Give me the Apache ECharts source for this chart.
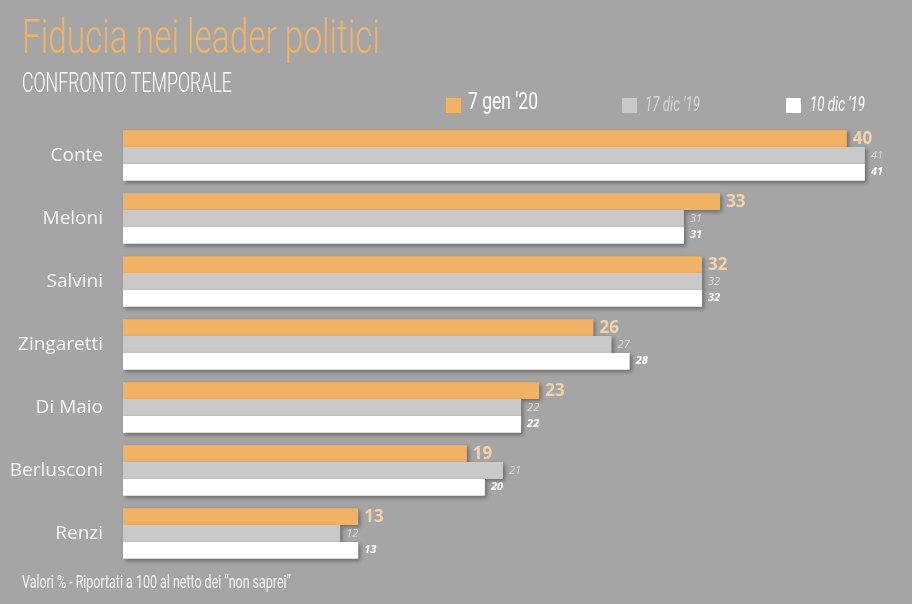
<!DOCTYPE html>
<html>
<head>
<meta charset="utf-8">
<script src="https://cdn.jsdelivr.net/npm/echarts@6/dist/echarts.min.js"></script>
<style>
  html, body { margin: 0; padding: 0; background: #a5a5a5; }
  #chart { width: 912px; height: 604px; }
</style>
</head>
<body>
<div id="chart"></div>
<script>
// dati
const leaders = ["Conte", "Meloni", "Salvini", "Zingaretti", "Di Maio", "Berlusconi", "Renzi"];
const gen20 = [40, 33, 32, 26, 23, 19, 13];
const dic17 = [41, 31, 32, 27, 22, 21, 12];
const dic10 = [41, 31, 32, 28, 22, 20, 13];
const seriesNames = ["7 gen '20", "17 dic '19", "10 dic '19"];

const colori = ["#f2b266", "#c9c9c9", "#ffffff"];
const condensed = "Roboto, sans-serif";

// niente font condensati: misuro il testo e lo stringo in orizzontale
const ctx = document.createElement("canvas").getContext("2d");
function narrowText(text, x, y, size, width, color, italic, weight) {
    const font = (italic ? "italic " : "") + (weight || "normal") + " " + size + "px " + condensed;
    ctx.font = font;
    const w = ctx.measureText(text).width;
    return {
        type: "text",
        x: x, y: y,
        scaleX: width / w,
        style: { text: text, x: 0, y: 0, font: font, fill: color, verticalAlign: "top" },
        z: 10
    };
}

const shadow = {
    shadowColor: "rgba(0, 0, 0, 0.35)",
    shadowBlur: 4,
    shadowOffsetX: 2,
    shadowOffsetY: 2
};

function bar(name, data, color, label) {
    return {
        name: name,
        type: "bar",
        data: data,
        barGap: "0%",
        barCategoryGap: "20%",
        itemStyle: Object.assign({ color: color }, shadow),
        label: Object.assign({ show: true, position: "right", distance: 6, fontFamily: "'Open Sans', sans-serif" }, label)
    };
}

function legendBox(name, left) {
    return {
        data: [name], left: left, top: 98, padding: 0,
        itemWidth: 15, itemHeight: 15, icon: "rect",
        formatter: () => "",
        itemStyle: { borderWidth: 0 }
    };
}

const chart = echarts.init(document.getElementById("chart"));
chart.setOption({
    backgroundColor: "#a5a5a5",
    animation: false,
    legend: [legendBox(seriesNames[0], 446), legendBox(seriesNames[1], 622), legendBox(seriesNames[2], 786)],
    graphic: [
        narrowText("Fiducia nei leader politici", 22, 17, 48, 358, "#f2b266", false, 300),
        narrowText("CONFRONTO TEMPORALE", 22, 72, 27, 210, "#ffffff", false, 300),
        narrowText(seriesNames[0], 468, 91, 24, 70, "#ffffff"),
        narrowText(seriesNames[1], 645, 95, 21, 55, "#d6d6d6", true),
        narrowText(seriesNames[2], 810, 95, 21, 55, "#ffffff", true),
        narrowText("Valori % - Riportati a 100 al netto dei \u201cnon saprei\u201d", 22, 574, 18, 269, "#f2f2f2")
    ],
    grid: { left: 123, right: 29, top: 124, bottom: 39 },
    xAxis: {
        type: "value",
        min: 0,
        max: 42,
        show: false
    },
    yAxis: {
        type: "category",
        inverse: true,
        data: leaders,
        axisLine: { show: false },
        axisTick: { show: false },
        axisLabel: {
            color: "#f4f4f4",
            fontSize: 19,
            fontFamily: "'Open Sans', sans-serif",
            margin: 20
        }
    },
    series: [
        bar(seriesNames[0], gen20, colori[0], {
            color: "#f3d2aa", fontSize: 17, fontWeight: "bold"
        }),
        bar(seriesNames[1], dic17, colori[1], {
            color: "#d9d9d9", fontSize: 11, fontStyle: "italic"
        }),
        bar(seriesNames[2], dic10, colori[2], {
            color: "#ffffff", fontSize: 11, fontStyle: "italic", fontWeight: "bold"
        })
    ]
});
</script>
</body>
</html>
